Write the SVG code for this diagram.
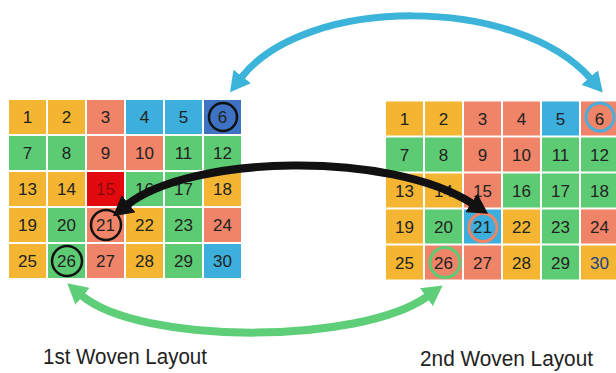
<svg xmlns="http://www.w3.org/2000/svg" width="616" height="373" viewBox="0 0 616 373">
<style>
.y{fill:#F4B632}.s{fill:#F08468}.g{fill:#5DCB73}.b{fill:#3CAFDD}.d{fill:#3E73C3}.r{fill:#E30A0F}
.n{font-family:"Liberation Sans",Arial,sans-serif;font-size:17px;fill:#222;text-anchor:middle}
.lbl{font-family:"Liberation Sans",Arial,sans-serif;font-size:22px;fill:#222}
.arc{fill:none}
</style>
<defs>
<marker id="hc" viewBox="0 0 20 22" refX="2" refY="11" markerWidth="20" markerHeight="22" markerUnits="userSpaceOnUse" orient="auto-start-reverse"><path d="M0,0 L20,11 L0,22 z" fill="#3CB4D9"/></marker>
<marker id="hk" viewBox="0 0 20 22" refX="2" refY="11" markerWidth="20" markerHeight="22" markerUnits="userSpaceOnUse" orient="auto-start-reverse"><path d="M0,0 L20,11 L0,22 z" fill="#111"/></marker>
<marker id="hg" viewBox="0 0 20 22" refX="2" refY="11" markerWidth="20" markerHeight="22" markerUnits="userSpaceOnUse" orient="auto-start-reverse"><path d="M0,0 L20,11 L0,22 z" fill="#5ECF78"/></marker>
</defs>
<rect width="616" height="373" fill="#fff"/>
<g id="grid1">
<g transform="translate(9,100)">
<rect class="y" x="0" y="0" width="37" height="34"/><rect class="y" x="39" y="0" width="37" height="34"/><rect class="s" x="78" y="0" width="37" height="34"/><rect class="b" x="117" y="0" width="37" height="34"/><rect class="b" x="156" y="0" width="37" height="34"/><rect class="d" x="195" y="0" width="37" height="34"/>
<rect class="g" x="0" y="36" width="37" height="34"/><rect class="g" x="39" y="36" width="37" height="34"/><rect class="s" x="78" y="36" width="37" height="34"/><rect class="s" x="117" y="36" width="37" height="34"/><rect class="g" x="156" y="36" width="37" height="34"/><rect class="g" x="195" y="36" width="37" height="34"/>
<rect class="y" x="0" y="72" width="37" height="34"/><rect class="y" x="39" y="72" width="37" height="34"/><rect class="r" x="78" y="72" width="37" height="34"/><rect class="g" x="117" y="72" width="37" height="34"/><rect class="g" x="156" y="72" width="37" height="34"/><rect class="y" x="195" y="72" width="37" height="34"/>
<rect class="y" x="0" y="108" width="37" height="34"/><rect class="g" x="39" y="108" width="37" height="34"/><rect class="s" x="78" y="108" width="37" height="34"/><rect class="y" x="117" y="108" width="37" height="34"/><rect class="g" x="156" y="108" width="37" height="34"/><rect class="s" x="195" y="108" width="37" height="34"/>
<rect class="y" x="0" y="144" width="37" height="34"/><rect class="g" x="39" y="144" width="37" height="34"/><rect class="s" x="78" y="144" width="37" height="34"/><rect class="y" x="117" y="144" width="37" height="34"/><rect class="g" x="156" y="144" width="37" height="34"/><rect class="b" x="195" y="144" width="37" height="34"/>
<text class="n" x="18.5" y="23">1</text><text class="n" x="57.5" y="23">2</text><text class="n" x="96.5" y="23">3</text><text class="n" x="135.5" y="23">4</text><text class="n" x="174.5" y="23">5</text><text class="n" x="213.5" y="23">6</text>
<text class="n" x="18.5" y="59">7</text><text class="n" x="57.5" y="59">8</text><text class="n" x="96.5" y="59">9</text><text class="n" x="135.5" y="59">10</text><text class="n" x="174.5" y="59">11</text><text class="n" x="213.5" y="59">12</text>
<text class="n" x="18.5" y="95">13</text><text class="n" x="57.5" y="95">14</text><text class="n" x="96.5" y="95" style="fill:#8a0a0a">15</text><text class="n" x="135.5" y="95">16</text><text class="n" x="174.5" y="95">17</text><text class="n" x="213.5" y="95">18</text>
<text class="n" x="18.5" y="131">19</text><text class="n" x="57.5" y="131">20</text><text class="n" x="96.5" y="131">21</text><text class="n" x="135.5" y="131">22</text><text class="n" x="174.5" y="131">23</text><text class="n" x="213.5" y="131">24</text>
<text class="n" x="18.5" y="167">25</text><text class="n" x="57.5" y="167">26</text><text class="n" x="96.5" y="167">27</text><text class="n" x="135.5" y="167">28</text><text class="n" x="174.5" y="167">29</text><text class="n" x="213.5" y="167">30</text>
<circle cx="214" cy="17" r="14" fill="none" stroke="#111" stroke-width="2.5"/>
<circle cx="97" cy="125" r="15" fill="none" stroke="#111" stroke-width="2.5"/>
<circle cx="58" cy="161" r="15" fill="none" stroke="#111" stroke-width="2.5"/>
</g>
</g>
<g id="grid2">
<g transform="translate(386,101.5)">
<rect class="y" x="0" y="0" width="37" height="34"/><rect class="y" x="39" y="0" width="37" height="34"/><rect class="s" x="78" y="0" width="37" height="34"/><rect class="s" x="117" y="0" width="37" height="34"/><rect class="b" x="156" y="0" width="37" height="34"/><rect class="s" x="195" y="0" width="37" height="34"/>
<rect class="g" x="0" y="36" width="37" height="34"/><rect class="g" x="39" y="36" width="37" height="34"/><rect class="s" x="78" y="36" width="37" height="34"/><rect class="s" x="117" y="36" width="37" height="34"/><rect class="g" x="156" y="36" width="37" height="34"/><rect class="g" x="195" y="36" width="37" height="34"/>
<rect class="y" x="0" y="72" width="37" height="34"/><rect class="y" x="39" y="72" width="37" height="34"/><rect class="s" x="78" y="72" width="37" height="34"/><rect class="g" x="117" y="72" width="37" height="34"/><rect class="g" x="156" y="72" width="37" height="34"/><rect class="g" x="195" y="72" width="37" height="34"/>
<rect class="y" x="0" y="108" width="37" height="34"/><rect class="g" x="39" y="108" width="37" height="34"/><rect class="b" x="78" y="108" width="37" height="34"/><rect class="y" x="117" y="108" width="37" height="34"/><rect class="g" x="156" y="108" width="37" height="34"/><rect class="s" x="195" y="108" width="37" height="34"/>
<rect class="y" x="0" y="144" width="37" height="34"/><rect class="s" x="39" y="144" width="37" height="34"/><rect class="s" x="78" y="144" width="37" height="34"/><rect class="y" x="117" y="144" width="37" height="34"/><rect class="g" x="156" y="144" width="37" height="34"/><rect class="y" x="195" y="144" width="37" height="34"/>
<text class="n" x="18.5" y="23">1</text><text class="n" x="57.5" y="23">2</text><text class="n" x="96.5" y="23">3</text><text class="n" x="135.5" y="23">4</text><text class="n" x="174.5" y="23">5</text><text class="n" x="213.5" y="23">6</text>
<text class="n" x="18.5" y="59">7</text><text class="n" x="57.5" y="59">8</text><text class="n" x="96.5" y="59">9</text><text class="n" x="135.5" y="59">10</text><text class="n" x="174.5" y="59">11</text><text class="n" x="213.5" y="59">12</text>
<text class="n" x="18.5" y="95">13</text><text class="n" x="57.5" y="95">14</text><text class="n" x="96.5" y="95">15</text><text class="n" x="135.5" y="95">16</text><text class="n" x="174.5" y="95">17</text><text class="n" x="213.5" y="95">18</text>
<text class="n" x="18.5" y="131">19</text><text class="n" x="57.5" y="131">20</text><text class="n" x="96.5" y="131">21</text><text class="n" x="135.5" y="131">22</text><text class="n" x="174.5" y="131">23</text><text class="n" x="213.5" y="131">24</text>
<text class="n" x="18.5" y="167">25</text><text class="n" x="57.5" y="167">26</text><text class="n" x="96.5" y="167">27</text><text class="n" x="135.5" y="167">28</text><text class="n" x="174.5" y="167">29</text><text class="n" x="213.5" y="167" style="fill:#223f8a">30</text>
<circle cx="214" cy="15.5" r="14" fill="none" stroke="#4AAEDC" stroke-width="3"/>
<circle cx="97" cy="126" r="14" fill="none" stroke="#F08468" stroke-width="3"/>
<circle cx="59" cy="161" r="15" fill="none" stroke="#5DCB73" stroke-width="3"/>
</g>
</g>
<g id="connectors">
<path class="arc" d="M241,78 C305,-5 518,-5 591,79" stroke="#3CB4D9" stroke-width="7" marker-start="url(#hc)" marker-end="url(#hc)"/>
<path class="arc" d="M127,205 C190,155 390,150 473,204" stroke="#111" stroke-width="8" marker-start="url(#hk)" marker-end="url(#hk)"/>
<path class="arc" d="M81,295 C140,345 360,345 428,296" stroke="#5ECF78" stroke-width="8" marker-start="url(#hg)" marker-end="url(#hg)"/>
</g>
<g id="labels">
<text class="lbl" x="43" y="364" textLength="164" lengthAdjust="spacingAndGlyphs">1st Woven Layout</text>
<text class="lbl" x="420" y="366" textLength="173" lengthAdjust="spacingAndGlyphs">2nd Woven Layout</text>
</g>
</svg>
